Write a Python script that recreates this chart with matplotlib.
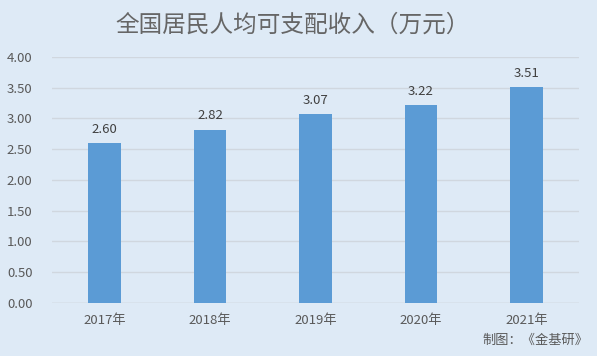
import matplotlib.pyplot as plt

plt.rcParams['font.family'] = ['Noto Sans CJK SC', 'DejaVu Sans']

years = ["2017年", "2018年", "2019年", "2020年", "2021年"]
income = [2.60, 2.82, 3.07, 3.22, 3.51]

bg = "#DEEAF6"
fig = plt.figure(figsize=(5.97, 3.56), dpi=100, facecolor=bg)
ax = fig.add_axes([0.087, 0.149, 0.883, 0.691], facecolor=bg)

x = range(len(years))
bars = ax.bar(x, income, width=0.31, color="#5B9BD5", zorder=3)
for b, v in zip(bars, income):
    ax.text(b.get_x() + b.get_width() / 2, v + 0.12, f"{v:.2f}",
            ha="center", va="bottom", fontsize=9.5, color="#404040")

ax.set_xlim(-0.5, len(years) - 0.5)
ax.set_ylim(0, 4)
ax.set_yticks([i * 0.5 for i in range(9)])
ax.set_yticklabels([f"{i * 0.5:.2f}" for i in range(9)])
ax.set_xticks(list(x))
ax.set_xticklabels(years)
ax.tick_params(length=0, labelsize=9.5, colors="#595959")
ax.tick_params(axis="y", pad=14)
ax.tick_params(axis="x", pad=8)
ax.grid(axis="y", color="#D0D7DF", linewidth=1, zorder=0)
for s in ax.spines.values():
    s.set_visible(False)
ax.axhline(0, color="#D0D4D9", linewidth=1, zorder=2)

fig.text(0.49, 0.93, "全国居民人均可支配收入（万元）", ha="center", va="center",
         fontsize=17, color="#666666", fontweight="light")
fig.text(0.985, 0.025, "制图：《金基研》", ha="right", va="bottom",
         fontsize=9.5, color="#595959")

fig.savefig("out.png", dpi=100, facecolor=bg)
